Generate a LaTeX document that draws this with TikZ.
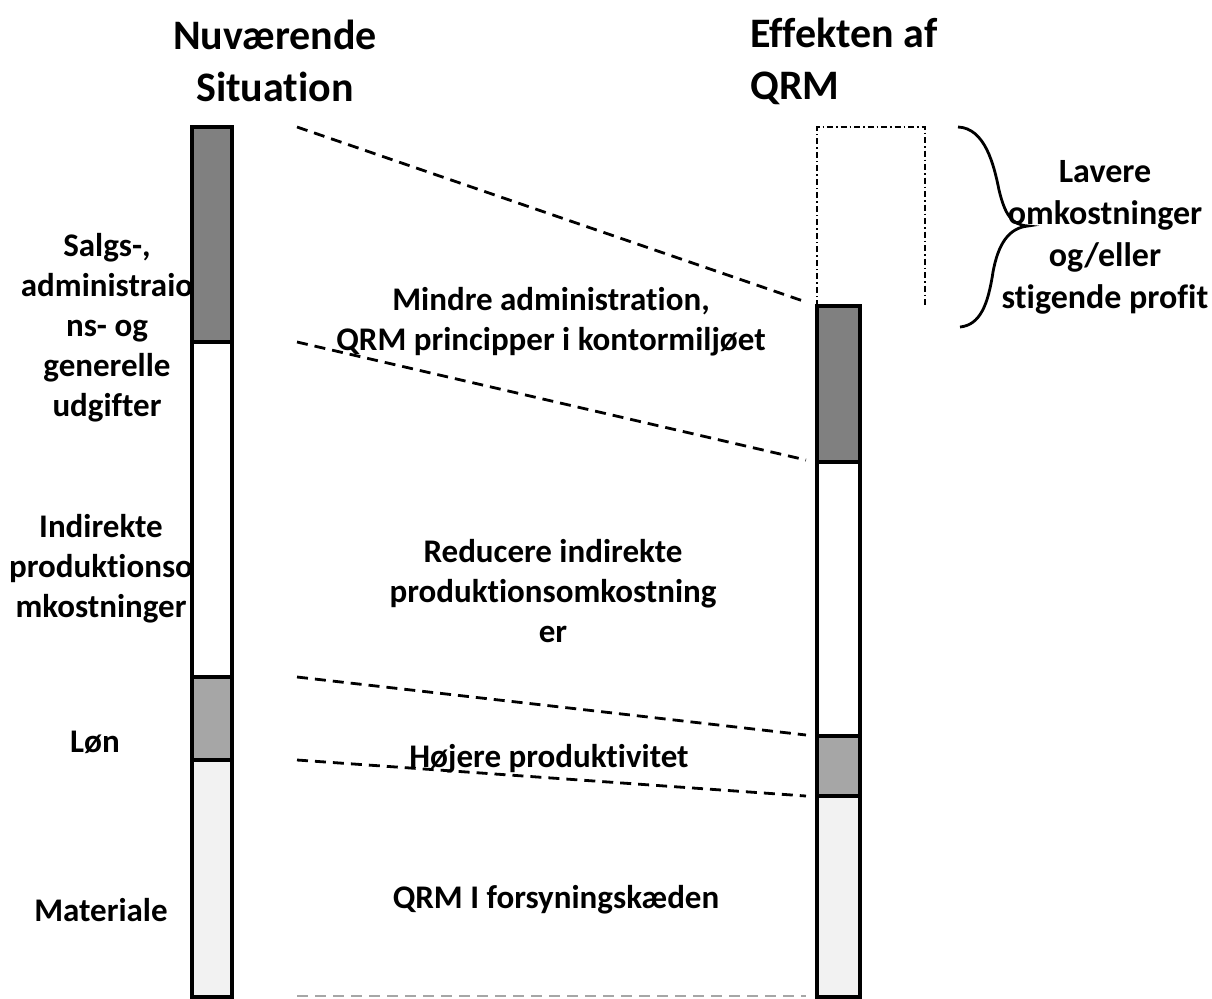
\documentclass[tikz,border=0pt]{standalone}
\usepackage{fontspec}
\setmainfont{Carlito}[Ligatures=NoCommon]
\definecolor{darkbar}{HTML}{808080}
\definecolor{midbar}{HTML}{A6A6A6}
\definecolor{lightbar}{HTML}{F2F2F2}
\begin{document}
\begin{tikzpicture}[x=1pt,y=-1pt,
  seg/.style={draw=black,line width=3.2pt,anchor=north west,inner sep=0pt,outer sep=0pt},
  guide/.style={line width=2.8pt,dash pattern=on 11pt off 7pt},
  lbl/.style={font=\bfseries\fontsize{33}{40}\selectfont,align=center,inner sep=0pt},
  title/.style={font=\bfseries\fontsize{42}{52}\selectfont,inner sep=0pt}]
\useasboundingbox (0,0) rectangle (1212,998);
% left bar
\node[seg,fill=darkbar,minimum width=40pt,minimum height=215pt] (L1) at (192,127) {};
\node[seg,fill=white,minimum width=40pt,minimum height=335pt] (L2) at (192,342) {};
\node[seg,fill=midbar,minimum width=40pt,minimum height=83pt] (L3) at (192,677) {};
\node[seg,fill=lightbar,minimum width=40pt,minimum height=237pt] (L4) at (192,760) {};
% right bar
\node[seg,fill=darkbar,minimum width=43pt,minimum height=156pt] (R1) at (817,306) {};
\node[seg,fill=white,minimum width=43pt,minimum height=274pt] (R2) at (817,462) {};
\node[seg,fill=midbar,minimum width=43pt,minimum height=60pt] (R3) at (817,736) {};
\node[seg,fill=lightbar,minimum width=43pt,minimum height=201pt] (R4) at (817,796) {};
% dash-dotted frame
\coordinate (F1) at (817,306);
\coordinate (F2) at (817,127);
\coordinate (F3) at (925,127);
\coordinate (F4) at (925,306);
\draw[line width=1.2pt,dash pattern=on 6pt off 3pt on 1.5pt off 3pt] (F1) -- (F2) -- (F3) -- (F4);
% dashed guide lines
\coordinate (a1) at ([xshift=65pt]L1.north east);
\coordinate (b1) at ([xshift=-11pt,yshift=4pt]R1.north west);
\coordinate (a2) at ([xshift=65pt]L2.north east);
\coordinate (b2) at ([xshift=-11pt,yshift=2pt]R2.north west);
\coordinate (a3) at ([xshift=65pt]L3.north east);
\coordinate (b3) at ([xshift=-11pt,yshift=1pt]R3.north west);
\coordinate (a4) at ([xshift=65pt]L4.north east);
\coordinate (b4) at ([xshift=-11pt]R4.north west);
\coordinate (a5) at (297,996);
\coordinate (b5) at (806,996);
\draw[guide] (a1) -- (b1);
\draw[guide] (a2) -- (b2);
\draw[guide] (a3) -- (b3);
\draw[guide] (a4) -- (b4);
\draw[guide,draw=gray!70] (a5) -- (b5);
% brace
\coordinate (c1) at (958,127);
\coordinate (c2) at (1028,226);
\coordinate (c3) at (960,327);
\draw[line width=2.8pt] (c1) .. controls (985,128) and (994,165) .. (999,190)
  .. controls (1005,215) and (1012,225) .. (c2)
  .. controls (1008,228) and (998,245) .. (993,272)
  .. controls (988,305) and (980,325) .. (c3);
% titles
\node[title,align=center] (t1) at (275,61) {Nuværende\\Situation};
\node[title,align=left,anchor=west] (t2) at (750,61) {Effekten af\\QRM};
% left labels
\node[lbl] (s1) at (107,328) {Salgs-,\\administraio\\ns- og\\generelle\\udgifter};
\node[lbl] (s2) at (101,569) {Indirekte\\produktionso\\mkostninger};
\node[lbl] (s3) at (95,742) {Løn};
\node[lbl] (s4) at (101,910) {Materiale};
% middle labels
\node[lbl] (m1) at (551,322) {Mindre administration,\\QRM principper i kontormiljøet};
\node[lbl] (m2) at (553,591) {Reducere indirekte\\produktionsomkostning\\er};
\node[lbl] (m3) at (549,759) {Højere produktivitet};
\node[lbl] (m4) at (556,900) {QRM I forsyningskæden};
% right label
\node[lbl,font=\bfseries\fontsize{34}{42}\selectfont] (r1) at (1105,237) {Lavere\\omkostninger\\og/eller\\stigende profit};
\end{tikzpicture}
\end{document}
